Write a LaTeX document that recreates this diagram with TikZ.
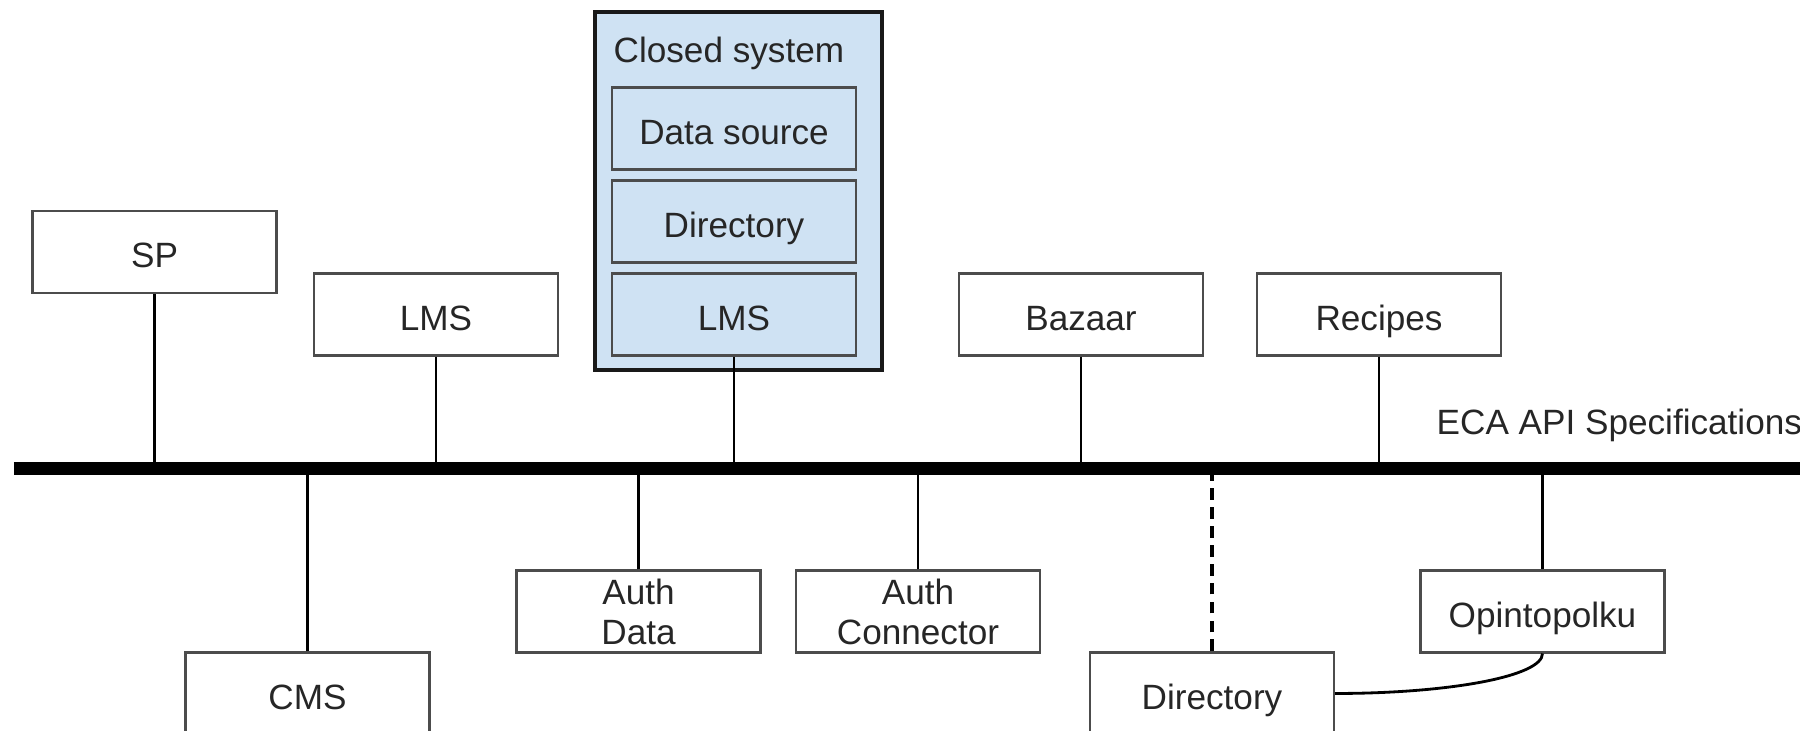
\documentclass[tikz,border=0pt]{standalone}
\usepackage{fontspec}
\setmainfont{Liberation Sans}
\usepackage{tikz}
\usetikzlibrary{positioning,calc}
\tikzstyle{boxbase} = [rectangle, minimum width=2.44cm, minimum height=0.82cm, inner sep=0pt, align=center, draw=black!70, line width=0.6pt, text=black!85, font=\fontsize{10}{11.4}\selectfont]
\tikzstyle{box} = [boxbase, text height=8.9pt, text depth=0pt]
\tikzstyle{twobox} = [boxbase]
\tikzstyle{inbox} = [box, fill=paleblue]
\tikzstyle{closedbox} = [rectangle, minimum width=2.87cm, minimum height=3.58cm, inner sep=0pt, draw=black!90, line width=0.9pt, fill=paleblue]
\tikzstyle{link} = [line width=0.8pt]
\tikzstyle{bus} = [line width=3.7pt]

\begin{document}
\begin{tikzpicture}
\definecolor{paleblue}{RGB}{207,226,243}
\useasboundingbox (0,0) rectangle (18,7.31);
\clip (0,0) rectangle (18,7.31);
\coordinate (busl) at (0.14,2.62);
\coordinate (busr) at (18,2.62);
\node[box] (sp) at (1.545,4.79) {SP};
\node[box] (lms) at (4.36,4.165) {LMS};
\node[closedbox] (closed) at (7.385,5.40) {};
\node[anchor=base west, inner sep=0pt, text=black!85, font=\fontsize{10}{11.4}\selectfont] (ctitle) at (6.13,6.68) {Closed system};
\node[inbox] (datasrc) at (7.34,6.025) {Data source};
\node[inbox] (dirin) at (7.34,5.095) {Directory};
\node[inbox] (lmsin) at (7.34,4.165) {LMS};
\node[box] (bazaar) at (10.81,4.165) {Bazaar};
\node[box] (recipes) at (13.79,4.165) {Recipes};
\node[anchor=base west, inner sep=0pt, text=black!85, font=\fontsize{10}{11.4}\selectfont] (eca) at (14.36,2.96) {ECA API Specifications};
\node[box] (cms) at (3.075,0.375) {CMS};
\node[twobox] (authdata) at (6.385,1.195) {Auth\\Data};
\node[twobox] (authconn) at (9.18,1.195) {Auth\\Connector};
\node[box] (dirout) at (12.12,0.375) {Directory};
\node[box] (opinto) at (15.425,1.195) {Opintopolku};
\draw[link] (sp.south) -- (sp.south |- busl);
\draw[link] (lms.south) -- (lms.south |- busl);
\draw[link] (lmsin.south) -- (lmsin.south |- busl);
\draw[link] (bazaar.south) -- (bazaar.south |- busl);
\draw[link] (recipes.south) -- (recipes.south |- busl);
\draw[link] (cms.north) -- (cms.north |- busl);
\draw[link] (authdata.north) -- (authdata.north |- busl);
\draw[link] (authconn.north) -- (authconn.north |- busl);
\draw[link] (opinto.north) -- (opinto.north |- busl);
\draw[link, line width=0.9pt, dash pattern=on 3.4pt off 2pt] (dirout.north) -- (dirout.north |- busl);
\draw[link] (dirout.east) .. controls +(1.13,0) and +(0,-0.23) .. (opinto.south);
\draw[bus] (busl) -- (busr);
\end{tikzpicture}
\end{document}
